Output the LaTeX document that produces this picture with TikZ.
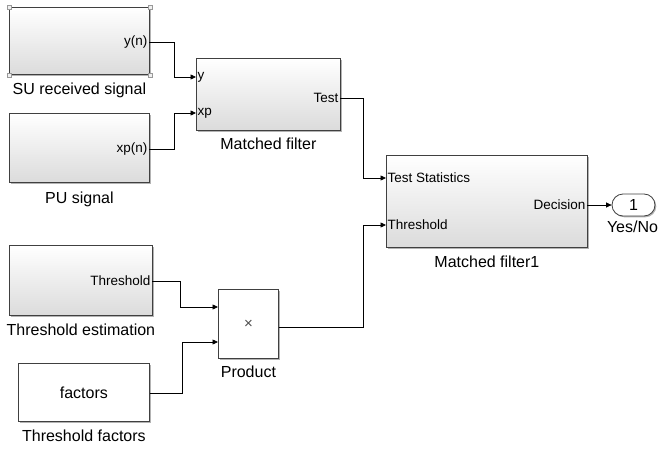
\documentclass[tikz,border=0pt]{standalone}
\usepackage{fontspec}
\setmainfont{Liberation Sans}
\usetikzlibrary{positioning,arrows.meta,shadows,shapes.misc}

\tikzset{
  box/.style={draw=black!75, line width=0.8pt, anchor=north west, inner sep=0pt,
    drop shadow={shadow xshift=1.3pt, shadow yshift=-1.3pt, fill=black!50, opacity=0.6},
    font=\fontsize{16}{18}\selectfont},
  block/.style={box, top color=white, bottom color=black!14},
  const/.style={box, fill=white},
  port/.style={font=\fontsize{13.5}{15}\selectfont, inner sep=1.5pt},
  title/.style={font=\fontsize{16}{18}\selectfont, inner sep=0pt},
  handle/.style={draw=black!40, fill=black!6, minimum size=4pt, inner sep=0pt, line width=0.4pt},
  sig/.style={-{Triangle[length=5.5pt,width=5pt]}, line width=0.7pt}
}

\begin{document}
\begin{tikzpicture}[x=1pt, y=-1pt]
  \useasboundingbox (0,0) rectangle (659,450);

  % sources
  \node[block, minimum width=140pt, minimum height=67pt] (su) at (9,7) {};
  \foreach \c in {north west, north east, south west, south east}
    \node[handle] at (su.\c) {};
  \node[port, anchor=east] (su-y) at (149,42) {y(n)};
  \node[title, below=8pt of su] (su-title) {SU received signal};

  \node[block, minimum width=140pt, minimum height=69pt] (pu) at (9,113) {};
  \node[port, anchor=east] (pu-xp) at (149,149) {xp(n)};
  \node[title, below=9pt of pu] (pu-title) {PU signal};

  \node[block, minimum width=143pt, minimum height=70pt] (te) at (9,245) {};
  \node[port, anchor=east] (te-thr) at (152,281) {Threshold};
  \node[title, below=8pt of te] (te-title) {Threshold estimation};

  \node[const, minimum width=131pt, minimum height=58pt] (fac) at (18,363) {};
  \node[title] at (fac.center) {factors};
  \node[title, below=8pt of fac] (fac-title) {Threshold factors};

  % filters
  \node[block, minimum width=144pt, minimum height=72pt] (mf) at (196,58) {};
  \node[port, anchor=west] (mf-y) at (196,77) {y};
  \node[port, anchor=west] (mf-xp) at (196,113) {xp};
  \node[port, anchor=east] (mf-test) at (340,98) {Test};
  \node[title, below=7pt of mf] (mf-title) {Matched filter};

  \node[const, minimum width=60pt, minimum height=69pt, font=\fontsize{15}{17}\selectfont, text=black!70] (prod) at (218,289) {×};
  \coordinate (prod-a) at (218,307);
  \coordinate (prod-b) at (218,342);
  \node[title, below=7pt of prod] (prod-title) {Product};

  \node[block, minimum width=201pt, minimum height=92pt] (mf1) at (386,155) {};
  \node[port, anchor=west] (mf1-ts) at (386,178) {Test Statistics};
  \node[port, anchor=west] (mf1-thr) at (386,225) {Threshold};
  \node[port, anchor=east] (mf1-dec) at (587,205) {Decision};
  \node[title, below=8pt of mf1] (mf1-title) {Matched filter1};

  % output
  \node[const, rounded rectangle, anchor=center, minimum width=43pt, minimum height=22pt] (out) at (633.5,205) {1};
  \node[title, below=4pt of out, xshift=-1pt] (out-title) {Yes/No};

  % signals
  \draw[sig] (su-y.east) -- ++(25,0) |- (mf-y.west);
  \draw[sig] (pu-xp.east) -- ++(25,0) |- (mf-xp.west);
  \draw[sig] (mf-test.east) -- ++(23,0) |- (mf1-ts.west);
  \draw[sig] (te-thr.east) -- ++(28,0) |- (prod-a);
  \draw[sig] (fac.east |- 0,393) -- ++(33,0) |- (prod-b);
  \draw[sig] ([yshift=-3pt]prod.east) -- ++(85,0) |- (mf1-thr.west);
  \draw[sig] (mf1-dec.east) -- (out.west);
\end{tikzpicture}
\end{document}
